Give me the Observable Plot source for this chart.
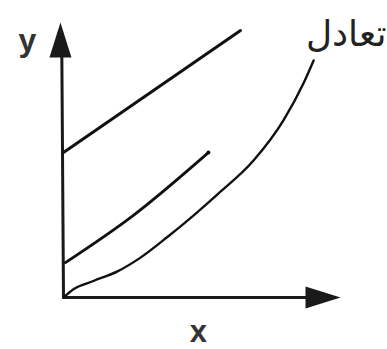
<!DOCTYPE html>
<html>
<head>
<meta charset="utf-8">
<script src="https://cdn.jsdelivr.net/npm/d3@7"></script>
<script src="https://cdn.jsdelivr.net/npm/@observablehq/plot@0.6"></script>
<style>
  html, body { margin: 0; padding: 0; background: #fff; }
  #chart { width: 387px; height: 349px; }
</style>
</head>
<body>
<div id="chart"></div>
<script>
// Upper straight line
const topLineX = [0, 6.39];
const topLineY = [5.27, 9.71];
// Middle (slightly bent) line
const midLineX = [0.07, 2.5, 5.23];
const midLineY = [1.27, 2.97, 5.27];
// Equilibrium curve
const eqCurveX = [0, 0.36, 1.08, 1.95, 2.78, 3.75, 4.69, 5.56, 6.86, 7.94, 8.66, 9.03];
const eqCurveY = [0, 0.3, 0.6, 0.95, 1.45, 2.2, 2.98, 3.75, 4.98, 6.44, 7.78, 8.62];
// Labels
const axisLabels = ["x", "y"];
const curveLabel = "تعادل";

const toPts = (xs, ys) => xs.map((x, i) => ({x, y: ys[i]}));

const arrowHead = {
  draw(context) {
    context.moveTo(0, 0);
    context.lineTo(-11, 35);
    context.lineTo(11, 35);
    context.closePath();
  }
};

const chart = Plot.plot({
  width: 387,
  height: 349,
  marginLeft: 63,
  marginRight: 47,
  marginTop: 22,
  marginBottom: 52,
  x: {domain: [0, 10], axis: null},
  y: {domain: [0, 10], axis: null},
  style: {background: "#fff", fontFamily: "'Liberation Sans', Arial, sans-serif"},
  marks: [
    // axes
    Plot.line([{x: 0, y: 0}, {x: 9, y: 0}], {x: "x", y: "y", stroke: "#1a1a1a", strokeWidth: 3.2}),
    Plot.line([{x: 0, y: 0}, {x: -0.06, y: 8.8}], {x: "x", y: "y", stroke: "#1a1a1a", strokeWidth: 3}),
    Plot.dot([{x: 10, y: 0}], {x: "x", y: "y", symbol: arrowHead, r: 1, fill: "#1a1a1a", stroke: "none", rotate: 90}),
    Plot.dot([{x: -0.11, y: 10}], {x: "x", y: "y", symbol: arrowHead, r: 1, fill: "#1a1a1a", stroke: "none", rotate: 0}),
    // curves
    Plot.line(toPts(topLineX, topLineY), {x: "x", y: "y", stroke: "#111", strokeWidth: 3}),
    Plot.line(toPts(midLineX, midLineY), {x: "x", y: "y", stroke: "#111", strokeWidth: 2.8, curve: "monotone-x"}),
    Plot.line(toPts(midLineX, midLineY).slice(1), {x: "x", y: "y", stroke: "#111", strokeWidth: 4, strokeLinecap: "round", curve: "monotone-x", filter: d => d.x > 3}),
    Plot.line(toPts(eqCurveX, eqCurveY), {x: "x", y: "y", stroke: "#111", strokeWidth: 2.4, curve: "monotone-x"}),
    // labels
    Plot.text([{x: 4.87, y: -1.6, t: axisLabels[0]}], {x: "x", y: "y", text: "t", fontSize: 31, lineAnchor: "bottom", fill: "#333", fontWeight: "bold"}),
    Plot.text([{x: -1.3, y: 8.98, t: axisLabels[1]}], {x: "x", y: "y", text: "t", fontSize: 32, lineAnchor: "bottom", fill: "#333", fontWeight: "bold"}),
    Plot.text([{x: 11.66, y: 9.13, t: curveLabel}], {x: "x", y: "y", text: "t", fontSize: 36, lineAnchor: "bottom", textAnchor: "end", fill: "#222", fontFamily: "'DejaVu Sans', 'Noto Sans', sans-serif"})
  ]
});
document.getElementById("chart").appendChild(chart);
</script>
</body>
</html>
